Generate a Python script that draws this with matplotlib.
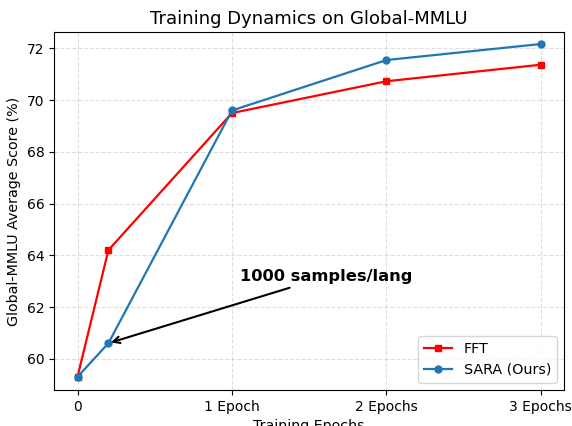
import matplotlib
matplotlib.use("Agg")
import matplotlib.pyplot as plt

epochs = [0, 0.2, 1, 2, 3]
fft = [59.3, 64.2, 69.5, 70.73, 71.37]
sara = [59.3, 60.6, 69.6, 71.55, 72.17]
xticks = [0, 1, 2, 3]
xticklabels = ["0", "1 Epoch", "2 Epochs", "3 Epochs"]

fig, ax = plt.subplots(figsize=(5.72, 4.26), dpi=100)
ax.plot(epochs, fft, color="red", marker="s", markersize=5, linewidth=1.6, label="FFT")
ax.plot(epochs, sara, color="#1f77b4", marker="o", markersize=5, linewidth=1.6, label="SARA (Ours)")
ax.set_xticks(xticks)
ax.set_xticklabels(xticklabels)
ax.set_ylim(58.8, 72.62)
ax.grid(True, linestyle="--", alpha=0.4)
ax.set_title("Training Dynamics on Global-MMLU", fontsize=13)
ax.set_xlabel("Training Epochs", fontsize=10.3)
ax.set_ylabel("Global-MMLU Average Score (%)", fontsize=10.3)
ax.annotate("1000 samples/lang", xy=(epochs[1], sara[1]), xytext=(1.05, 63.0),
            fontsize=11.7, fontweight="bold",
            arrowprops=dict(arrowstyle="->", color="black", lw=1.5))
ax.legend(loc="lower right", fontsize=10.3)
fig.subplots_adjust(left=0.095, right=0.986, top=0.924, bottom=0.085)
fig.savefig("out.png", dpi=100)
